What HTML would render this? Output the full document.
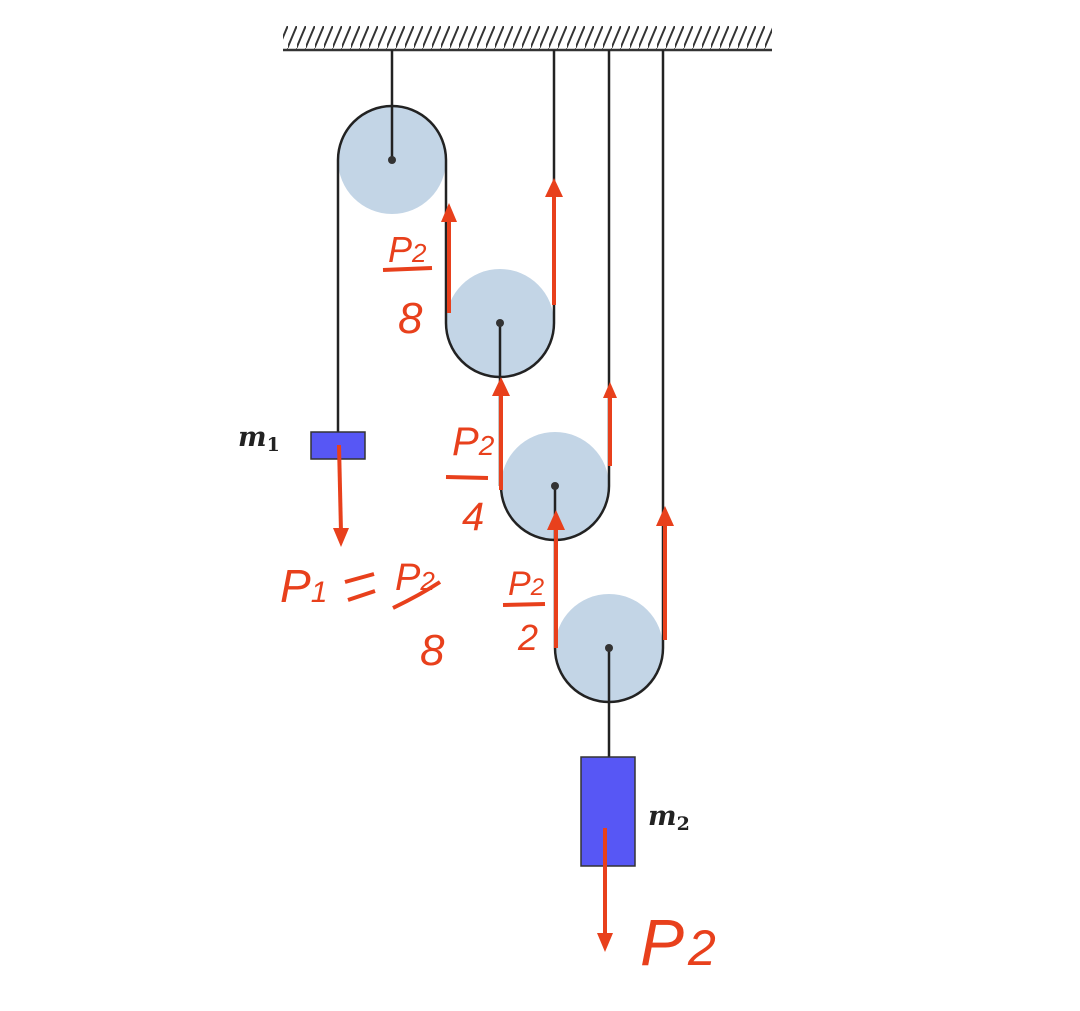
<!DOCTYPE html>
<html><head><meta charset="utf-8"><style>
html,body{margin:0;padding:0;background:#fff;}
svg{display:block;}
.hw{font-family:"Liberation Sans",sans-serif;fill:#e8401c;font-style:italic;}
.m{font-family:"DejaVu Serif","Liberation Serif",serif;font-style:italic;font-weight:bold;fill:#222;}
</style></head><body>
<svg width="1080" height="1011" viewBox="0 0 1080 1011" xmlns="http://www.w3.org/2000/svg">
<defs>
<pattern id="h" width="9" height="24" patternUnits="userSpaceOnUse">
<line x1="-1" y1="25" x2="10" y2="-1" stroke="#333" stroke-width="2"/>
</pattern>
</defs>
<rect x="283" y="26" width="489" height="23" fill="url(#h)"/>
<line x1="283" y1="50" x2="772" y2="50" stroke="#333" stroke-width="2.5"/>
<g fill="#c3d5e6">
<circle cx="392" cy="160" r="54"/>
<circle cx="500" cy="323" r="54"/>
<circle cx="555" cy="486" r="54"/>
<circle cx="609" cy="648" r="54"/>
</g>
<g stroke="#222" stroke-width="2.5" fill="none">
<line x1="392" y1="50" x2="392" y2="160"/>
<path d="M338 432 V160 A54 54 0 0 1 446 160 V323 A54 54 0 0 0 554 323 V50"/>
<line x1="500" y1="323" x2="500" y2="486"/>
<path d="M501 486 A54 54 0 0 0 609 486 V50"/>
<line x1="555" y1="486" x2="555" y2="648"/>
<path d="M555 648 A54 54 0 0 0 663 648 V50"/>
<line x1="609" y1="648" x2="609" y2="757"/>
</g>
<g fill="#333"><circle cx="392" cy="160" r="4"/><circle cx="500" cy="323" r="4"/><circle cx="555" cy="486" r="4"/><circle cx="609" cy="648" r="4"/></g>
<rect x="311" y="432" width="54" height="27" fill="#5757f5" stroke="#333" stroke-width="1.5"/>
<rect x="581" y="757" width="54" height="109" fill="#5757f5" stroke="#333" stroke-width="1.5"/>
<text x="238" y="446" class="m" font-size="27">m<tspan font-size="19" dy="5" font-style="normal">1</tspan></text>
<text x="648" y="825" class="m" font-size="27">m<tspan font-size="19" dy="5" font-style="normal">2</tspan></text>
<g stroke="#e8401c" stroke-width="4" fill="none">
<line x1="449" y1="313" x2="449" y2="218"/>
<line x1="554" y1="305" x2="554" y2="194"/>
<line x1="501" y1="490" x2="501" y2="392"/>
<line x1="610" y1="466" x2="610" y2="394"/>
<line x1="556" y1="648" x2="556" y2="526"/>
<line x1="665" y1="640" x2="665" y2="522"/>
<line x1="339" y1="445" x2="341" y2="532"/>
<line x1="605" y1="828" x2="605" y2="936"/>
<line x1="383" y1="270" x2="432" y2="268"/>
<line x1="446" y1="477" x2="488" y2="478"/>
<line x1="503" y1="605" x2="545" y2="604"/>
<line x1="345" y1="582" x2="374" y2="574"/>
<line x1="348" y1="600" x2="375" y2="591"/>
<path d="M393 608 Q420 595 440 582"/>
</g>
<g fill="#e8401c">
<polygon points="449,203 441,222 457,222"/>
<polygon points="554,178 545,197 563,197"/>
<polygon points="501,377 492,396 510,396"/>
<polygon points="610,382 603,398 617,398"/>
<polygon points="556,510 547,530 565,530"/>
<polygon points="665,506 656,526 674,526"/>
<polygon points="341,547 333,528 349,528"/>
<polygon points="605,952 597,933 613,933"/>
</g>
<text x="388" y="262" class="hw" font-size="36">P<tspan font-size="26">2</tspan></text>
<text x="398" y="333" class="hw" font-size="44">8</text>
<text x="452" y="455" class="hw" font-size="40">P<tspan font-size="28">2</tspan></text>
<text x="462" y="530" class="hw" font-size="40">4</text>
<text x="508" y="595" class="hw" font-size="34">P<tspan font-size="24">2</tspan></text>
<text x="518" y="650" class="hw" font-size="36">2</text>
<text x="280" y="602" class="hw" font-size="46">P<tspan font-size="30">1</tspan></text>
<text x="395" y="590" class="hw" font-size="38">P<tspan font-size="26">2</tspan></text>
<text x="420" y="665" class="hw" font-size="44">8</text>
<text x="640" y="965" class="hw" font-size="66">P<tspan font-size="50" dx="4">2</tspan></text>
</svg>
</body></html>
